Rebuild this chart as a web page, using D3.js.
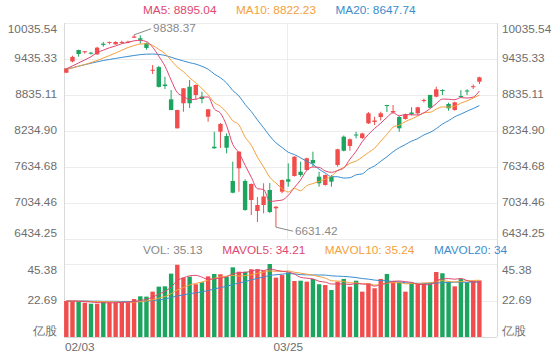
<!DOCTYPE html>
<html><head><meta charset="utf-8">
<script src="https://cdn.jsdelivr.net/npm/d3@7"></script>
<style>html,body{margin:0;padding:0;background:#fff;} svg{display:block;font-family:"Liberation Sans",Arial,Helvetica,sans-serif;}</style>
</head><body><svg id="c" width="560" height="360"></svg>
<script>
// ---------- data ----------
const tickIndex = [0, 36];
const tickLabels = ["02/03", "03/25"];

const openV  = [9207,9395,9585,9550,9540,9513,9690,9705,9680,9710,9705,9790,9780,9700,9240,9300,9010,8763,8280,8697,8973,8835,8807,8473,7973,8223,8151,7401,7613,7401,7084,6901,7001,7251,6946,7223,7430,7485,7556,7585,7751,7473,7335,7473,7668,8140,7985,8176,8118,8363,8385,8468,8668,8543,8468,8435,8543,8530,8735,8835,8807,8918,8685,8585,8819,8910,8965,9057];
const highV  = [9285,9490,9590,9567,9555,9640,9720,9725,9730,9740,9740,9838.37,9830,9710,9335,9320,9140,8918,8590,8950,9085,9010,8890,8600,8223,8368,8196,7723,7900,7430,7360,7134,7363,7368,6980,7425,7696,7815,7723,7790,7890,7556,7510,7501,7940,8160,8113,8223,8206,8552,8473,8557,8670,8668,8485,8525,8630,8640,8776,8840,8973,8930,8707,8723,8918,8930,9010,9140];
const lowV   = [9200,9380,9473,9525,9510,9505,9640,9680,9675,9700,9700,9785,9690,9590,9185,8960,8935,8580,8275,8556,8618,8760,8697,8390,7940,7951,7863,7196,7223,6906,6834,6718,6863,6868,6631.42,7196,7306,7475,7473,7575,7640,7306,7325,7306,7640,7895,7906,8113,8101,8352,8335,8410,8551,8535,8223,8425,8493,8502,8710,8615,8797,8835,8573,8573,8797,8835,8935,9018];
const closeV = [9280,9470,9518,9564,9535,9624,9670,9720,9720,9720,9725,9810,9755,9620,9255,8970,8985,8585,8585,8947,8697,9002,8768,8597,7946,8352,7956,7206,7890,6918,7351,7001,7143,6884,6973,7418,7390,7806,7501,7780,7696,7363,7501,7390,7930,7906,8097,8160,8193,8530,8410,8530,8652,8568,8280,8513,8518,8630,8752,8623,8930,8902,8613,8713,8802,8893,8982,9130];
const volume = [22.4,22.4,21.9,21.3,20.7,20.7,21.9,21.6,21.6,21.6,21.6,23.6,25.3,25.1,28.2,31.3,31.5,39.4,44.9,36.9,37.5,32.8,34.0,37.7,39.2,39.0,37.3,43.3,40.6,40.6,42.1,42.1,41.2,45.38,36.9,38.5,40.2,34.8,35.0,34.4,36.1,32.8,32.3,29.2,34.4,36.1,31.3,35.0,28.2,33.4,30.3,36.1,39.2,34.4,34.0,28.2,33.8,33.4,33.4,33.8,40.4,39.6,34.4,31.5,36.0,34.0,34.9,35.13];

const ma5Head  = [9270,9320,9370,9420];
const ma10Head = [9270,9285,9318,9343,9376,9410,9452,9493,9535];
const ma20Head = [9268,9290,9315,9340,9365,9388,9410,9428,9445,9462,9478,9494,9508,9516,9518,9512,9495,9465,9432];
const mavol5Head  = [22.3,22.3,22.2,22.0];
const mavol10Head = [22.4,22.4,22.3,22.2,22.1,22.0,22.0,21.9,21.8];
const mavol20Head = [22.4,22.4,22.4,22.4,22.3,22.3,22.2,22.2,22.2,22.1,22.1,22.1,22.2,22.3,22.6,23.1,23.6,24.6,25.5];

const priceTicks = [6434.25,7034.46,7634.68,8234.90,8835.11,9435.33,10035.54];
const priceTickLabels = ["6434.25","7034.46","7634.68","8234.90","8835.11","9435.33","10035.54"];
const volTicks = [0,22.69,45.38];
const volTickLabels = ["亿股","22.69","45.38"];

const maNames = ["MA5","MA10","MA20"];
const maValues = ["8895.04","8822.23","8647.74"];
const volNames = ["VOL","MAVOL5","MAVOL10","MAVOL20"];
const volValues = ["35.13","34.21","35.24","34"];

const highMark = {index:11, value:9838.37, label:"9838.37"};
const lowMark = {index:34, value:6631.42, label:"6631.42"};

// ---------- layout ----------
const L=64,R=497;
const pTop=23,pBot=239,vTop=264,vBot=337;
const UP="#F24D4D", DOWN="#1BA55F";
const C5="#E0466F", C10="#F5A03C", C20="#3A8DCF";
const TXT="#6e6e6e", GRID="#ECECEC", AX="#DADADA";
const n=closeV.length;

const svg=d3.select("#c");
const x=d3.scaleLinear().domain([0,n-1]).range([66.3,479.4]);
const bw=4.4;
const yP=d3.scaleLinear().domain([6434.25,10035.54]).range([pBot,pTop]);
const yV=d3.scaleLinear().domain([0,45.38]).range([vBot,vTop]);

function ma(arr,k,head){return arr.map((_,i)=> i<head.length? head[i] : d3.mean(arr.slice(i-k+1,i+1)));}
const ma5=ma(closeV,5,ma5Head), ma10=ma(closeV,10,ma10Head), ma20=ma(closeV,20,ma20Head);
const mv5=ma(volume,5,mavol5Head), mv10=ma(volume,10,mavol10Head), mv20=ma(volume,20,mavol20Head);

// grid
const g=svg.append("g");
g.selectAll(".pg").data(priceTicks).join("line")
 .attr("x1",L).attr("x2",R).attr("y1",d=>Math.round(yP(d))+0.5).attr("y2",d=>Math.round(yP(d))+0.5)
 .attr("stroke",GRID).attr("stroke-width",1);
g.selectAll(".vg").data(volTicks).join("line")
 .attr("x1",L).attr("x2",R).attr("y1",d=>Math.round(yV(d))+0.5).attr("y2",d=>Math.round(yV(d))+0.5)
 .attr("stroke",GRID).attr("stroke-width",1);
tickIndex.slice(1).forEach(i=>{
  const xx=Math.round(x(i))-0.5;
  [[pTop,pBot],[vTop,vBot]].forEach(([a,b])=>{
    g.append("line").attr("x1",xx).attr("x2",xx).attr("y1",a).attr("y2",b).attr("stroke",GRID);
  });
});
[L,R].forEach(xx=>g.append("line").attr("x1",xx+0.5).attr("x2",xx+0.5).attr("y1",pTop).attr("y2",vBot).attr("stroke",AX));
g.append("line").attr("x1",L).attr("x2",R).attr("y1",vBot+0.5).attr("y2",vBot+0.5).attr("stroke",AX);

// axis labels
const fs=11.8;
function yLabels(ticks,labels,scale,top,bot){
  ticks.forEach((t,i)=>{
    const yy=scale(t);
    let base="middle", yy2=yy;
    if(Math.abs(yy-top)<1){base="hanging"; yy2=yy+1;}
    if(Math.abs(yy-bot)<1){base="auto"; yy2=yy-2;}
    [[L-7,"end"],[R+5,"start"]].forEach(([xx,anc])=>{
      svg.append("text").attr("x",xx).attr("y",yy2).attr("text-anchor",anc)
        .attr("dominant-baseline",base).attr("font-size",fs).attr("fill",TXT).text(labels[i]);
    });
  });
}
yLabels(priceTicks,priceTickLabels,yP,pTop,pBot);
yLabels(volTicks,volTickLabels,yV,vTop,vBot);

tickIndex.forEach((ti,k)=>{
  const t=svg.append("text").attr("y",351).attr("font-size",fs).attr("fill",TXT).text(tickLabels[k]);
  if(ti===0) t.attr("x",L+1).attr("text-anchor","start");
  else t.attr("x",x(ti)).attr("text-anchor","middle");
});

// candles and volume bars
const cg=svg.append("g");
closeV.forEach((c,i)=>{
  const o=openV[i], col=c>=o?UP:DOWN, cx=x(i);
  cg.append("line").attr("x1",cx).attr("x2",cx).attr("y1",yP(highV[i])).attr("y2",yP(lowV[i])).attr("stroke",col).attr("stroke-width",1);
  const y1=yP(Math.max(o,c)), y2=yP(Math.min(o,c));
  cg.append("rect").attr("x",cx-bw/2).attr("width",bw).attr("y",y1).attr("height",Math.max(1,y2-y1)).attr("fill",col);
  svg.append("rect").attr("x",cx-bw/2).attr("width",bw).attr("y",yV(volume[i])).attr("height",yV(0)-yV(volume[i])).attr("fill",col);
});

// MA lines
const lineP=d3.line().x((d,i)=>x(i)).y(d=>yP(d)).curve(d3.curveMonotoneX);
const lineV=d3.line().x((d,i)=>x(i)).y(d=>yV(d)).curve(d3.curveMonotoneX);
[[ma20,C20],[ma10,C10],[ma5,C5]].forEach(([d,c])=>svg.append("path").attr("d",lineP(d)).attr("fill","none").attr("stroke",c).attr("stroke-width",1));
[[mv20,C20],[mv10,C10],[mv5,C5]].forEach(([d,c])=>svg.append("path").attr("d",lineV(d)).attr("fill","none").attr("stroke",c).attr("stroke-width",1));

// high / low marks
const MK="#8a8a8a";
{
  const hx=x(highMark.index), hy=yP(highMark.value);
  svg.append("line").attr("x1",hx).attr("y1",hy).attr("x2",hx+17).attr("y2",hy-6).attr("stroke",MK);
  svg.append("text").attr("x",hx+19).attr("y",hy-5.5).attr("dominant-baseline","middle").attr("font-size",fs).attr("fill",MK).text(highMark.label);
  const lx=x(lowMark.index), ly=yP(lowMark.value);
  svg.append("line").attr("x1",lx).attr("y1",ly).attr("x2",lx+17).attr("y2",ly+4).attr("stroke",MK);
  svg.append("text").attr("x",lx+19).attr("y",ly+4.5).attr("dominant-baseline","middle").attr("font-size",fs).attr("fill",MK).text(lowMark.label);
}

// legends
function legend(names,values,colors,y0){
  let xx=143;
  names.forEach((nm,i)=>{
    const t=svg.append("text").attr("x",xx).attr("y",y0).attr("dominant-baseline","middle")
      .attr("font-size",fs).attr("fill",colors[i]).text(nm+": "+values[i]);
    xx+=t.node().getComputedTextLength()+19.5;
  });
}
legend(maNames,maValues,[C5,C10,C20],10.5);
legend(volNames,volValues,["#888888",C5,C10,C20],251);
</script></body></html>
